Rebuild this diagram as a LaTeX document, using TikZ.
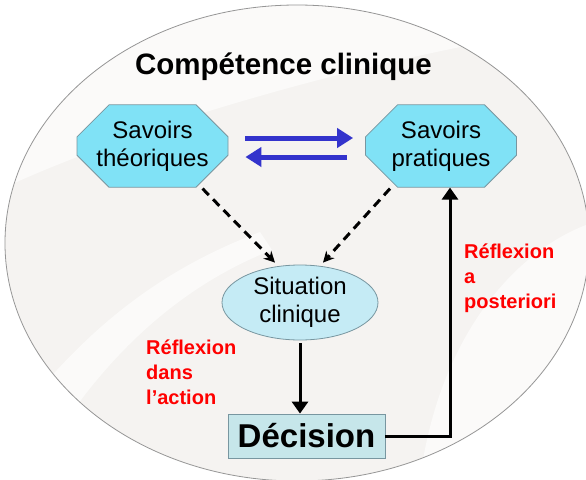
\documentclass[tikz,border=0pt]{standalone}
\usepackage{fontspec}
\setmainfont{Liberation Sans}
\usetikzlibrary{shapes.misc,shapes.geometric,arrows.meta,calc}
\definecolor{octfill}{RGB}{128,226,246}
\definecolor{octdraw}{RGB}{120,150,160}
\definecolor{sitfill}{RGB}{197,235,245}
\definecolor{decfill}{RGB}{198,230,234}
\definecolor{bigfill}{RGB}{245,243,241}
\definecolor{bigdraw}{RGB}{150,150,150}
\definecolor{arrblue}{RGB}{51,51,204}
\definecolor{lblred}{RGB}{255,0,0}
\tikzset{
  octbox/.style={chamfered rectangle, chamfered rectangle xsep=16pt, chamfered rectangle ysep=16pt,
    minimum width=151pt, minimum height=78pt, inner sep=0pt, fill=octfill, draw=octdraw, line width=0.8pt,
    align=center, font=\fontsize{24}{28}\selectfont},
  sitbox/.style={ellipse, minimum width=156pt, minimum height=75pt, inner sep=0pt, fill=sitfill,
    draw=octdraw, line width=0.8pt, align=center, font=\fontsize{24}{28}\selectfont},
  decbox/.style={rectangle, minimum width=157pt, minimum height=44pt, inner sep=0pt, fill=decfill,
    draw=octdraw, line width=0.8pt, font=\fontsize{33}{36}\selectfont\bfseries},
  lbl/.style={align=left, inner sep=0pt, text=lblred, font=\fontsize{20}{24.7}\selectfont\bfseries},
  bluearr/.style={draw=arrblue, line width=5pt, -{Triangle[length=16pt,width=19pt]}, arrblue},
  dasharr/.style={draw=black, line width=3pt, dash pattern=on 9pt off 6pt, -{Stealth[length=11pt,width=11pt]}},
  solidarr/.style={draw=black!75, line width=3pt, -{Triangle[length=12pt,width=16pt]}, black},
  swoosh/.style={fill=white, fill opacity=0.6, draw=none},
}
\begin{document}
\begin{tikzpicture}[x=1pt,y=-1pt]
\useasboundingbox (0,0) rectangle (586,479);
\clip (0,0) rectangle (586,479);
\fill[white] (0,0) rectangle (586,479);
\draw[fill=bigfill, draw=none] (297,243) ellipse [x radius=292, y radius=238];
\begin{scope}
  \clip (297,243) ellipse [x radius=292, y radius=238];
  \fill[swoosh] (420,479) .. controls (440,330) and (520,250) .. (586,225) -- (586,479) -- cycle;
  \fill[swoosh] (0,440) .. controls (80,330) and (160,270) .. (260,232) -- (272,250) .. controls (170,290) and (90,370) .. (30,479) -- cycle;
  \fill[swoosh] (0,0) -- (586,0) -- (586,25) .. controls (450,45) and (300,80) .. (150,130) .. controls (80,155) and (30,175) .. (0,190) -- cycle;
\end{scope}
\draw[draw=bigdraw, line width=0.8pt] (297,243) ellipse [x radius=292, y radius=238];
\node[font=\fontsize{29.5}{33}\selectfont\bfseries] (title) at (283.5,67) {Compétence clinique};
\node[octbox] (t) at (152.5,146) {Savoirs\\théoriques};
\node[octbox] (p) at (441,146) {Savoirs\\pratiques};
\node[sitbox] (s) at (300,302.5) {Situation\\clinique};
\node[decbox] (d) at (306.5,436) {Décision};
\draw[bluearr] ([xshift=17pt,yshift=8pt]t.east) -- ([xshift=-12pt,yshift=8pt]p.west);
\draw[bluearr] ([xshift=-18pt,yshift=-11pt]p.west) -- ([xshift=17pt,yshift=-11pt]t.east);
\draw[dasharr] ([xshift=50pt,yshift=-1pt]t.south) -- ([xshift=-25pt,yshift=2pt]s.north);
\draw[dasharr] ([xshift=-51pt,yshift=-1pt]p.south) -- ([xshift=23pt,yshift=2pt]s.north);
\draw[solidarr] ([yshift=-3pt]s.south) -- (s.south |- d.north);
\draw[solidarr] (d.east) -| ([xshift=9pt]p.south);
\node[lbl, anchor=base west] (ra) at (464,308) {Réflexion\\a\\posteriori};
\node[lbl, anchor=base west] (rd) at (146,404) {Réflexion\\dans\\l’action};
\end{tikzpicture}
\end{document}
